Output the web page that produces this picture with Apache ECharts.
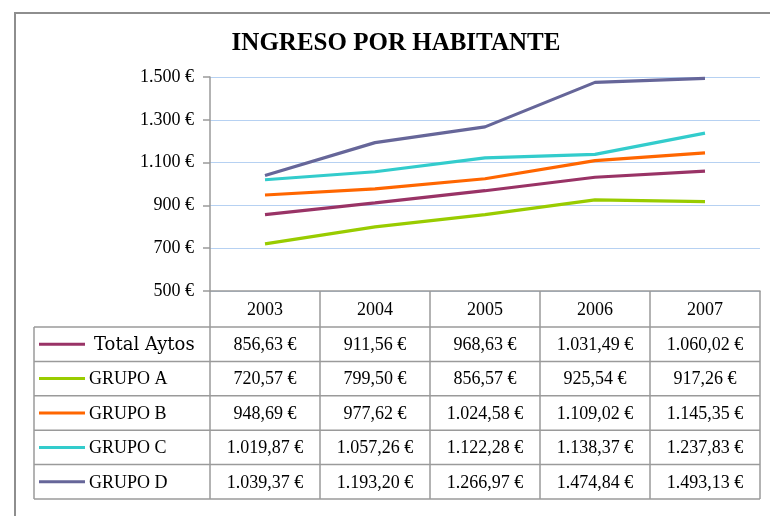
<!DOCTYPE html>
<html>
<head>
<meta charset="utf-8">
<script src="https://cdn.jsdelivr.net/npm/echarts@6/dist/echarts.min.js"></script>
<style>
  html, body { margin: 0; padding: 0; background: #fff; }
  #chart { width: 770px; height: 516px; }
</style>
</head>
<body>
<div id="chart"></div>
<script>
// Income per inhabitant, 2003-2007, by municipal group
const years = ['2003', '2004', '2005', '2006', '2007'];
const seriesNames = ['Total Aytos', 'GRUPO A', 'GRUPO B', 'GRUPO C', 'GRUPO D'];
const totalAytos = [856.63, 911.56, 968.63, 1031.49, 1060.02];
const grupoA = [720.57, 799.50, 856.57, 925.54, 917.26];
const grupoB = [948.69, 977.62, 1024.58, 1109.02, 1145.35];
const grupoC = [1019.87, 1057.26, 1122.28, 1138.37, 1237.83];
const grupoD = [1039.37, 1193.20, 1266.97, 1474.84, 1493.13];
const seriesColors = ['#993366', '#99CC00', '#FF6600', '#33CCCC', '#666699'];
const yMin = 500, yMax = 1500, yStep = 200;

const seriesValues = [totalAytos, grupoA, grupoB, grupoC, grupoD];
const SERIF = '"Liberation Serif", "Times New Roman", serif';
const GRAY = '#9a9a9a';

// Spanish number format: dot for thousands, comma for decimals
function fmt(v, decimals) {
  const parts = v.toFixed(decimals).split('.');
  const intPart = parts[0].replace(/\B(?=(\d{3})+(?!\d))/g, '.');
  return (parts.length > 1 ? intPart + ',' + parts[1] : intPart) + ' €';
}

const chart = echarts.init(document.getElementById('chart'), null, { renderer: 'canvas' });

chart.setOption({
  backgroundColor: '#fff',
  animation: false,
  grid: { left: 210, right: 10, top: 77, bottom: 225, containLabel: false },
  xAxis: {
    type: 'category',
    data: years,
    boundaryGap: true,
    axisLine: { show: true, lineStyle: { color: GRAY, width: 1.5 } },
    axisTick: { show: false },
    axisLabel: { color: '#000', fontFamily: SERIF, fontSize: 18, margin: 10 },
    splitLine: { show: false }
  },
  yAxis: {
    type: 'value',
    min: yMin, max: yMax, interval: yStep,
    axisLine: { show: true, lineStyle: { color: GRAY, width: 1.5 } },
    axisTick: { show: true, length: 7, lineStyle: { color: GRAY, width: 1.5 } },
    axisLabel: { color: '#000', fontFamily: SERIF, fontSize: 18, margin: 16,
                 formatter: v => fmt(v, 0) },
    splitLine: { show: true, lineStyle: { color: '#b6d1f2', width: 1.2 } }
  },
  series: seriesNames.map((name, i) => ({
    name: name,
    type: 'line',
    data: seriesValues[i],
    symbol: 'none',
    lineStyle: { color: seriesColors[i], width: 3.2 },
    itemStyle: { color: seriesColors[i] },
    z: 2 + i
  }))
});

// Data table below the plot, laid out from the category axis positions
const centers = years.map(y => chart.convertToPixel({ xAxisIndex: 0 }, y));
const band = centers[1] - centers[0];
const bounds = centers.map(c => c - band / 2).concat([centers[centers.length - 1] + band / 2]);
const axisY = chart.convertToPixel({ yAxisIndex: 0 }, yMin);
const headerBottom = axisY + 36;
const rowH = 34.4;
const tableLeft = 34;
const tableBottom = headerBottom + rowH * seriesNames.length;
const right = bounds[bounds.length - 1];

const graphics = [];
// outer chart frame
graphics.push({ type: 'rect', shape: { x: 15, y: 13, width: 800, height: 600 },
  style: { fill: 'none', stroke: '#8e8e8e', lineWidth: 2 }, z: 0, silent: true });
// title
graphics.push({ type: 'text', x: 396, y: 44, z: 10,
  style: { text: 'INGRESO POR HABITANTE', font: 'bold 25px ' + SERIF, fill: '#000',
           textAlign: 'center', textVerticalAlign: 'middle' } });
// horizontal table rules
for (let k = 0; k <= seriesNames.length; k++) {
  const y = headerBottom + k * rowH;
  graphics.push({ type: 'line', z: 5,
    shape: { x1: tableLeft, y1: y, x2: right, y2: y },
    style: { stroke: GRAY, lineWidth: 1.5 } });
}
// vertical table rules
graphics.push({ type: 'line', z: 5,
  shape: { x1: tableLeft, y1: headerBottom, x2: tableLeft, y2: tableBottom },
  style: { stroke: GRAY, lineWidth: 1.5 } });
bounds.forEach(x => {
  graphics.push({ type: 'line', z: 5,
    shape: { x1: x, y1: axisY, x2: x, y2: tableBottom },
    style: { stroke: GRAY, lineWidth: 1.5 } });
});
// row keys and values
seriesNames.forEach((name, i) => {
  const cy = headerBottom + (i + 0.5) * rowH;
  graphics.push({ type: 'line', z: 6,
    shape: { x1: 39, y1: cy, x2: 85, y2: cy },
    style: { stroke: seriesColors[i], lineWidth: 3 } });
  const isTotal = i === 0;
  graphics.push({ type: 'text', x: isTotal ? 94 : 89, y: cy + 1, z: 6,
    style: { text: name,
             font: isTotal ? '18px "DejaVu Serif", serif' : '18px ' + SERIF,
             fill: '#000', textAlign: 'left', textVerticalAlign: 'middle' } });
  seriesValues[i].forEach((v, j) => {
    graphics.push({ type: 'text', x: centers[j], y: cy + 1, z: 6,
      style: { text: fmt(v, 2), font: '18px ' + SERIF, fill: '#000',
               textAlign: 'center', textVerticalAlign: 'middle' } });
  });
});

chart.setOption({ graphic: graphics });
</script>
</body>
</html>
